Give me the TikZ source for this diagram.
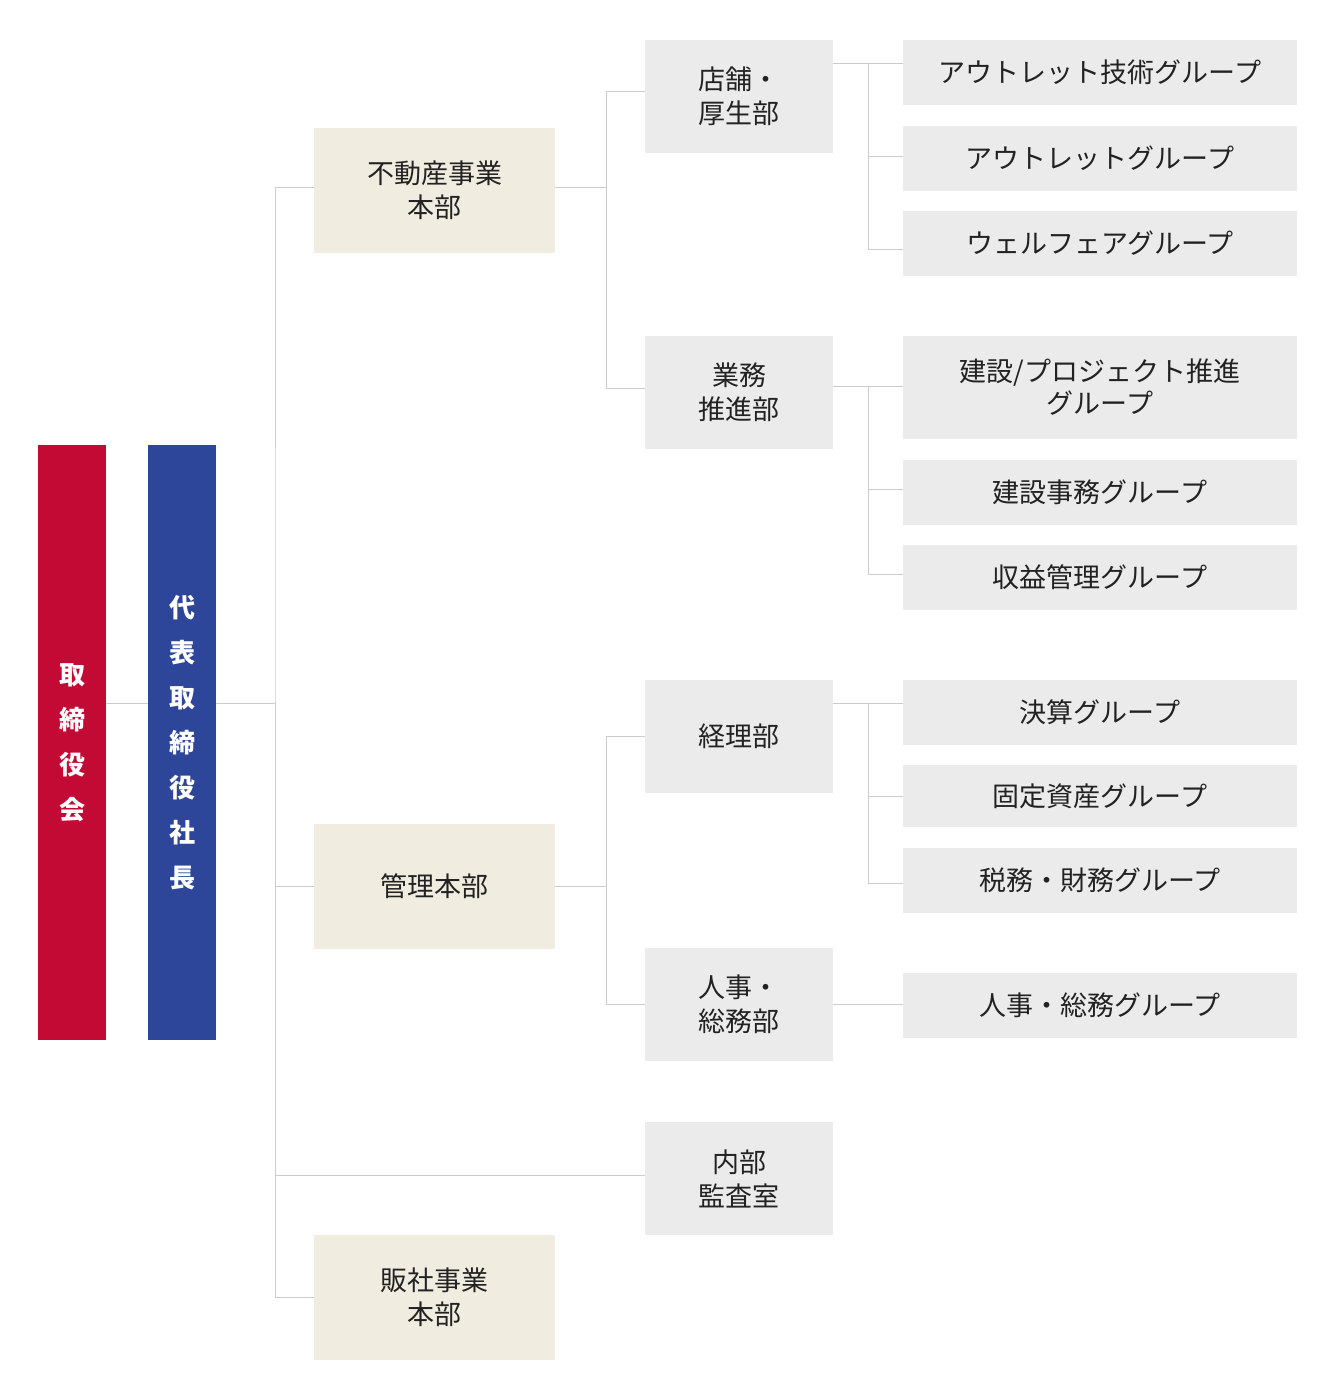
\documentclass[tikz,border=0pt]{standalone}
\usepackage{fontspec}
\setmainfont{Noto Sans CJK JP}
\usepackage{tikz}
\usetikzlibrary{positioning}

\definecolor{bdred}{HTML}{C20A35}
\definecolor{ceoblue}{HTML}{2E4699}
\definecolor{hqbeige}{HTML}{F0ECE0}
\definecolor{boxgray}{HTML}{EBEBEB}
\definecolor{linegray}{HTML}{CCCCCC}
\definecolor{txt}{HTML}{222222}

\begin{document}
\begin{tikzpicture}[x=1pt, y=-1pt,
        board/.style={fill=#1, text=white, minimum width=68pt, minimum height=595pt,
            align=center, font=\fontsize{26}{45}\selectfont\bfseries, inner sep=0pt},
        hq/.style={fill=hqbeige, text=txt, minimum width=241pt, minimum height=125pt,
            align=center, font=\fontsize{27}{34}\selectfont, inner sep=0pt},
        dept/.style={fill=boxgray, text=txt, minimum width=188pt, minimum height=113pt,
            align=center, font=\fontsize{27}{34}\selectfont, inner sep=0pt},
        grp/.style={fill=boxgray, text=txt, minimum width=394pt, minimum height=#1,
            align=center, font=\fontsize{27}{32}\selectfont, inner sep=0pt},
        grp/.default=65pt,
        link/.style={draw=linegray, line width=1pt}]
        \useasboundingbox (0,0) rectangle (1340,1399);
        % top of the chart
        \node (bd) [board=bdred] at (72,742.5) {取\\締\\役\\会};
        \node (ceo) [board=ceoblue] at (182,742.5) {代\\表\\取\\締\\役\\社\\長};
        % head offices
        \node (h1) [hq] at (434.5,190.5) {不動産事業\\本部};
        \node (h2) [hq] at (434.5,886) {管理本部};
        \node (h3) [hq] at (434.5,1297) {販社事業\\本部};
        % departments
        \node (d1) [dept] at (739,96.5) {店舗・\\厚生部};
        \node (d2) [dept] at (739,392) {業務\\推進部};
        \node (d3) [dept] at (739,736) {経理部};
        \node (d4) [dept] at (739,1004.5) {人事・\\総務部};
        \node (d5) [dept] at (739,1178.5) {内部\\監査室};
        % groups
        \node (g1) [grp] at (1100,72.5) {アウトレット技術グループ};
        \node (g2) [grp] at (1100,158.5) {アウトレットグループ};
        \node (g3) [grp] at (1100,243) {ウェルフェアグループ};
        \node (g4) [grp=103pt] at (1100,387.5) {建設/プロジェクト推進\\グループ};
        \node (g5) [grp] at (1100,492) {建設事務グループ};
        \node (g6) [grp] at (1100,577) {収益管理グループ};
        \node (g7) [grp] at (1100,712.5) {決算グループ};
        \node (g8) [grp=62pt] at (1100,796) {固定資産グループ};
        \node (g9) [grp] at (1100,880) {税務・財務グループ};
        \node (g10) [grp] at (1100,1005) {人事・総務グループ};

        % junctions
        \coordinate (t0) at (275,703);
        \coordinate (j1) at (606,188);
        \coordinate (j2) at (606,886);
        \coordinate (k1) at (868,64);
        \coordinate (k2) at (868,386);
        \coordinate (k3) at (868,703);

        \draw [link] (bd.east |- t0) -- (ceo.west |- t0);
        \draw [link] (ceo.east |- t0) -- (t0);
        \draw [link] (h1.west |- j1) -| (t0) |- (h3.west);
        \draw [link] (t0) |- (h2.west);
        \draw [link] ([yshift=3pt]d5.west) -| (t0);

        \draw [link] (h1.east |- j1) -- (j1);
        \draw [link] (j1) |- ([yshift=5pt]d1.west);
        \draw [link] (j1) |- ([yshift=4pt]d2.west);
        \draw [link] (h2.east) -- (j2);
        \draw [link] (j2) |- (d3.west);
        \draw [link] (j2) |- (d4.west);

        \draw [link] (d1.east |- k1) -- (g1.west |- k1);
        \draw [link] (k1) |- ([yshift=2pt]g2.west);
        \draw [link] (k1) |- ([yshift=-6pt]g3.west);
        \draw [link] (d2.east |- k2) -- (g4.west |- k2);
        \draw [link] (k2) |- ([yshift=3pt]g5.west);
        \draw [link] (k2) |- ([yshift=3pt]g6.west);
        \draw [link] (d3.east |- k3) -- (g7.west |- k3);
        \draw [link] (k3) |- (g8.west);
        \draw [link] (k3) |- ([yshift=-3pt]g9.west);
        \draw [link] (d4.east) -- (g10.west |- d4.east);
\end{tikzpicture}
\end{document}
